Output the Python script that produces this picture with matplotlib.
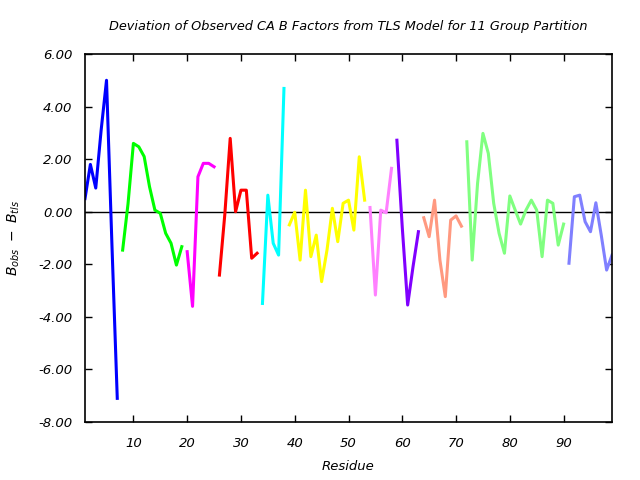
import matplotlib
matplotlib.use('Agg')
import matplotlib.pyplot as plt
from matplotlib.ticker import FormatStrFormatter

# Residue ranges and B-factor deviations for each TLS group
group_starts = [1, 8, 20, 26, 34, 39, 54, 59, 64, 72, 91]
group_vals = [
    [0.5, 1.8, 0.9, 3.1, 5.0, -1.2, -7.1],
    [-1.46, 0.3, 2.6, 2.47, 2.1, 0.95, 0.06, -0.06, -0.82, -1.2, -2.03, -1.33],
    [-1.52, -3.6, 1.33, 1.84, 1.84, 1.71],
    [-2.41, -0.1, 2.79, 0.0, 0.82, 0.82, -1.77, -1.58],
    [-3.49, 0.63, -1.2, -1.65, 4.69],
    [-0.5, -0.02, -1.84, 0.82, -1.71, -0.89, -2.66, -1.46, 0.13, -1.14, 0.32,
     0.44, -0.7, 2.09, 0.44],
    [0.16, -3.17, 0.06, -0.04, 1.65],
    [2.72, -0.6, -3.55, -2.09, -0.76],
    [-0.23, -0.95, 0.44, -1.84, -3.23, -0.32, -0.16, -0.55],
    [2.66, -1.84, 1.08, 2.98, 2.22, 0.32, -0.82, -1.58, 0.6, 0.06, -0.47,
     0.06, 0.44, 0.06, -1.71, 0.44, 0.32, -1.27, -0.47],
    [-1.96, 0.57, 0.63, -0.38, -0.76, 0.34, -0.89, -2.22, -1.65],
]
group_colors = ['#0000ff', '#00ff00', '#ff00ff', '#ff0000', '#00ffff', '#ffff00',
                '#ff80ff', '#8000ff', '#ff9980', '#80ff80', '#8080ff']

title = 'Deviation of Observed CA B Factors from TLS Model for 11 Group Partition'

fig = plt.figure(figsize=(6.4, 4.8), dpi=100)
ax = fig.add_axes([85/640, 58/480, 527/640, 368/480])

for start, vals, col in zip(group_starts, group_vals, group_colors):
    res = list(range(start, start + len(vals)))
    ax.plot(res, vals, color=col, linewidth=2.2)

ax.axhline(0, color='black', linewidth=1.0, zorder=1)

ax.set_xlim(1, 99)
ax.set_ylim(-8, 6)
ax.set_xticks(range(10, 100, 10))
ax.set_yticks(range(-8, 7, 2))
ax.yaxis.set_major_formatter(FormatStrFormatter('%.2f'))

ax.tick_params(direction='in', length=5, width=1, top=True, right=True,
               labelsize=9.5)
ax.tick_params(axis='y', pad=9)
ax.tick_params(axis='x', pad=11)
for lab in ax.get_xticklabels() + ax.get_yticklabels():
    lab.set_fontstyle('italic')
for s in ax.spines.values():
    s.set_linewidth(1.2)

ax.set_title(title, fontsize=9.3, style='italic', pad=17)
ax.set_xlabel('Residue', fontsize=9.5, style='italic', labelpad=7)
fig.text(14/640, 1 - 238/480, r'$B_{obs}\ -\ B_{tls}$', rotation=90,
         ha='center', va='center', fontsize=10)

plt.savefig('out.png', dpi=100)
